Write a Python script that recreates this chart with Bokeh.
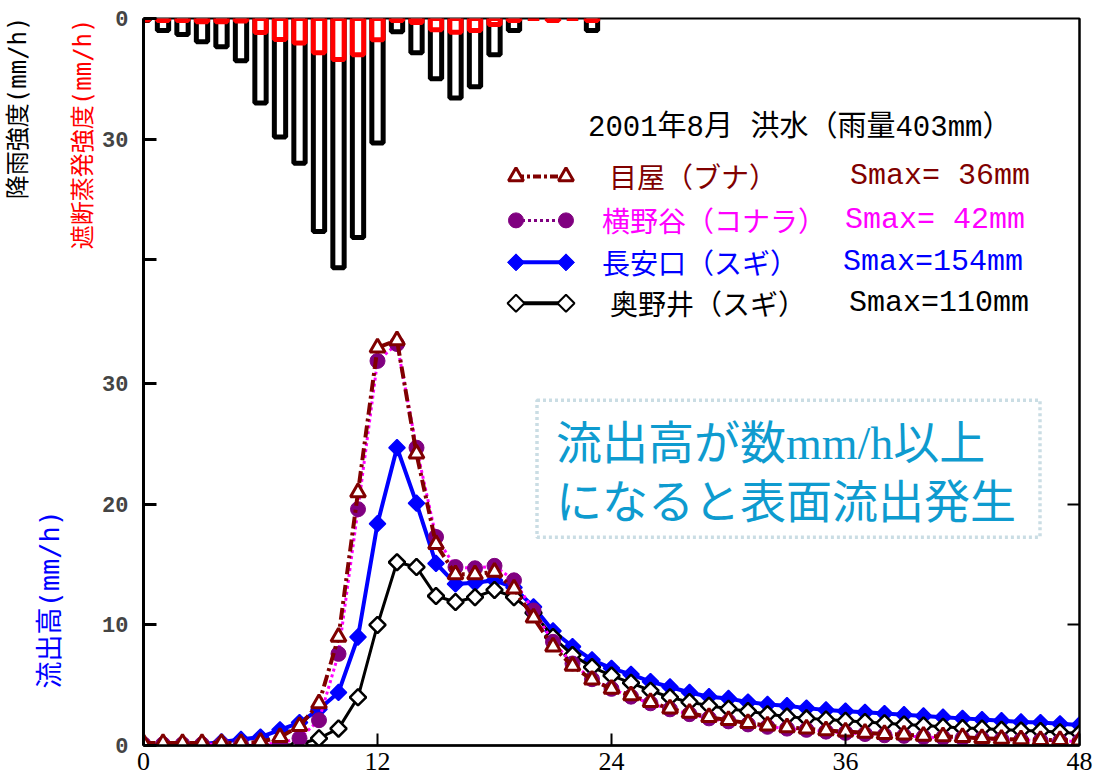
import numpy as np
from bokeh.plotting import figure
from bokeh.models import Range1d, LinearAxis, FixedTicker, Label, BoxAnnotation, Title
from bokeh.embed import file_html
from bokeh.resources import INLINE

# ---------------- data ----------------
hours = list(range(49))
rain_hours = list(range(24))
# rainfall intensity (mm/h), hourly
rain = [0.5, 3.0, 4.0, 5.8, 7.0, 10.5, 21.0, 29.5, 36.0, 53.0, 62.0, 54.5,
        31.0, 3.3, 8.5, 15.0, 19.8, 17.0, 9.0, 3.0, 0.0, 0.0, 0.0, 3.0]
# interception evaporation intensity (mm/h)
evap = [0.4, 0.5, 0.5, 0.8, 0.8, 0.6, 3.5, 5.2, 6.1, 8.5, 10.2, 9.0,
        5.3, 0.5, 1.0, 2.8, 3.4, 3.0, 1.5, 0.5, 0.0, 0.5, 0.0, 0.5]

# runoff height (mm/h)
meya = [0.2, 0.2, 0.2, 0.2, 0.2, 0.2, 0.3, 0.7, 1.6, 3.5, 9.0, 21.0, 33.0, 33.6,
        24.2, 16.7, 14.2, 14.2, 14.4, 13.0, 10.6, 8.2, 6.6, 5.45, 4.7, 4.15, 3.6,
        3.05, 2.7, 2.35, 2.1, 1.85, 1.65, 1.5, 1.4, 1.25, 1.15, 1.05, 0.95, 0.9,
        0.8, 0.75, 0.7, 0.6, 0.55, 0.5, 0.45, 0.45, 0.4]
yokono = [0.1, 0.1, 0.1, 0.1, 0.1, 0.1, 0.1, 0.2, 0.6, 2.1, 7.6, 19.6, 31.9, 33.3,
          24.7, 17.3, 14.8, 14.7, 14.9, 13.7, 11.2, 8.6, 6.8, 5.5, 4.7, 4.05, 3.5,
          3.0, 2.6, 2.25, 2.0, 1.75, 1.55, 1.4, 1.3, 1.15, 1.05, 0.95, 0.85, 0.8,
          0.7, 0.65, 0.6, 0.55, 0.5, 0.45, 0.4, 0.35, 0.35]
nagayasu = [0.0, 0.0, 0.05, 0.1, 0.3, 0.5, 0.7, 1.3, 1.9, 3.0, 4.4, 9.0, 18.4, 24.7,
            20.1, 15.1, 13.4, 13.5, 13.7, 13.1, 11.5, 9.5, 8.2, 7.1, 6.4, 5.9, 5.3,
            4.85, 4.4, 4.05, 3.9, 3.6, 3.4, 3.3, 3.1, 2.95, 2.85, 2.75, 2.65, 2.55,
            2.45, 2.35, 2.25, 2.15, 2.05, 1.95, 1.9, 1.8, 1.7]
okunoi = [0.0, 0.0, 0.0, 0.0, 0.0, 0.0, 0.0, 0.0, 0.1, 0.6, 1.4, 4.0, 10.0, 15.2,
          14.8, 12.4, 11.9, 12.3, 12.9, 12.3, 11.0, 9.0, 7.5, 6.5, 5.8, 5.2, 4.55,
          4.0, 3.6, 3.3, 3.05, 2.85, 2.6, 2.4, 2.25, 2.15, 2.05, 1.95, 1.85, 1.75,
          1.65, 1.55, 1.45, 1.4, 1.3, 1.25, 1.2, 1.1, 1.0]

x_ticks = [0, 12, 24, 36, 48]
runoff_ticks = [0, 10, 20, 30]
rain_ticks = [0, 30]          # labelled rainfall ticks
rain_minor_ticks = [60]       # unlabelled rainfall tick
right_ticks = [10, 20]        # unlabelled ticks on the right frame edge

series_names = ["目屋（ブナ）", "横野谷（コナラ）", "長安口（スギ）", "奥野井（スギ）"]
smax_texts = ["Smax= 36mm", "Smax= 42mm", "Smax=154mm", "Smax=110mm"]
title_text = "2001年8月 洪水（雨量403mm）"

# ---------------- figure ----------------
Y_TOP = 60.3          # runoff axis top
RAIN_PER_UNIT = 3.0   # rain axis (reversed) shares the frame
rain_bottom = Y_TOP * RAIN_PER_UNIT

p = figure(width=1098, height=783, x_range=Range1d(0, 48), y_range=Range1d(0, Y_TOP),
           output_backend="svg", toolbar_location=None,
           min_border_left=143, min_border_right=19, min_border_top=18, min_border_bottom=38)
p.extra_y_ranges = {"rain": Range1d(start=rain_bottom, end=0)}
p.grid.visible = False
p.outline_line_color = "black"
p.outline_line_width = 2
p.background_fill_color = "white"
p.border_fill_color = "white"

# x axis
xa = p.xaxis[0]
xa.ticker = FixedTicker(ticks=x_ticks)
xa.major_tick_in = 12
xa.major_tick_out = 0
xa.major_tick_line_width = 2
xa.minor_tick_line_color = None
xa.axis_line_width = 2.5
xa.major_label_text_font = "Liberation Serif"
xa.major_label_text_font_size = "26px"
xa.major_label_text_color = "black"
xa.major_label_standoff = 7

# left axis: runoff ticks + rain ticks mapped into runoff coordinates
ya = p.yaxis[0]
rain_tick_pos = [Y_TOP - r / RAIN_PER_UNIT for r in rain_ticks]
rain_minor_pos = [Y_TOP - r / RAIN_PER_UNIT for r in rain_minor_ticks]
ya.ticker = FixedTicker(ticks=runoff_ticks + rain_tick_pos, minor_ticks=rain_minor_pos)
ya.major_label_overrides = {pos: str(r) for pos, r in zip(rain_tick_pos, rain_ticks)}
ya.major_tick_in = 13
ya.major_tick_out = 0
ya.major_tick_line_width = 3
ya.minor_tick_in = 13
ya.minor_tick_out = 0
ya.minor_tick_line_width = 3
ya.minor_tick_line_color = "black"
ya.axis_line_width = 3
ya.major_label_text_font = "Liberation Mono"
ya.major_label_text_font_style = "bold"
ya.major_label_text_font_size = "22px"
ya.major_label_standoff = 15

# axis titles (stacked outward from the axis on the left side)
TITLE_FONT = "DejaVu Sans Mono, Noto Sans CJK JP"
p.add_layout(Title(text="遮断蒸発強度(mm/h)", align="right", offset=0, standoff=5,
                   text_font=TITLE_FONT, text_font_size="24px",
                   text_font_style="normal", text_color="#FF0000"), "left")
p.add_layout(Title(text="流出高(mm/h)", align="left", offset=57, standoff=0,
                   text_font=TITLE_FONT, text_font_size="27px",
                   text_font_style="normal", text_color="#0000FF"), "left")
p.add_layout(Title(text="降雨強度(mm/h)", align="right", offset=-2, standoff=0,
                   text_font=TITLE_FONT, text_font_size="24px",
                   text_font_style="normal", text_color="black"), "left")

# right axis: inward ticks only (minor ticks carry no labels)
ra = LinearAxis(ticker=FixedTicker(ticks=[], minor_ticks=right_ticks),
                minor_tick_in=12, minor_tick_out=0, minor_tick_line_width=2,
                minor_tick_line_color="black", major_tick_line_color=None,
                axis_line_width=2, major_label_standoff=0)
p.add_layout(ra, "right")

# ---------------- rain bars ----------------
p.vbar(x=rain_hours, width=0.58, top=0, bottom=rain, y_range_name="rain",
       fill_color="white", line_color="black", line_width=5)
p.vbar(x=rain_hours, width=0.58, top=0, bottom=evap, y_range_name="rain",
       fill_color="white", line_color="#FF0000", line_width=5)

# ---------------- runoff series ----------------
SQ = np.pi / 4
p.line(hours, nagayasu, line_color="#0000FF", line_width=4)
p.scatter(hours, nagayasu, marker="square", angle=SQ, size=11.5,
          fill_color="#0000FF", line_color="#0000FF", line_width=1.5)
p.line(hours, okunoi, line_color="black", line_width=3)
p.scatter(hours, okunoi, marker="square", angle=SQ, size=11.5,
          fill_color="white", line_color="black", line_width=2.5)
p.line(hours, yokono, line_color="#FF00FF", line_width=3, line_dash="3 3")
p.scatter(hours, yokono, marker="circle", size=15,
          fill_color="#800080", line_color="#800080")
p.line(hours, meya, line_color="#800000", line_width=4, line_dash="12 4 3 4")
p.scatter(hours, meya, marker="triangle", size=15,
          fill_color="white", line_color="#800000", line_width=3)

# ---------------- legend (manual) ----------------
def px2x(px):
    return (px - 143.5) / 19.5

def py2y(py):
    return (745.5 - py) / 12.065

leg_x = [px2x(516), px2x(566)]
rows = [py2y(176), py2y(220), py2y(262), py2y(303)]

p.line(leg_x, [rows[0]] * 2, line_color="#800000", line_width=4, line_dash="8 3 3 3")
p.scatter(leg_x, [rows[0]] * 2, marker="triangle", size=15, fill_color="white",
          line_color="#800000", line_width=3)
p.line(leg_x, [rows[1]] * 2, line_color="#800080", line_width=3, line_dash="3 3")
p.scatter(leg_x, [rows[1]] * 2, marker="circle", size=15, fill_color="#800080",
          line_color="#800080")
p.line(leg_x, [rows[2]] * 2, line_color="#0000FF", line_width=4)
p.scatter(leg_x, [rows[2]] * 2, marker="square", angle=SQ, size=12, fill_color="#0000FF",
          line_color="#0000FF")
p.line(leg_x, [rows[3]] * 2, line_color="black", line_width=4)
p.scatter(leg_x, [rows[3]] * 2, marker="square", angle=SQ, size=12, fill_color="white",
          line_color="black", line_width=2)

name_colors = ["#800000", "#FF00FF", "#0000FF", "black"]
name_px = [609, 602, 602, 610]
smax_px = [850, 845, 843, 849]
for i in range(4):
    p.add_layout(Label(x=px2x(name_px[i]), y=rows[i], text=series_names[i],
                       text_font="Noto Sans CJK JP", text_font_size="28px",
                       text_color=name_colors[i], text_baseline="middle", text_align="left"))
    p.add_layout(Label(x=px2x(smax_px[i]), y=rows[i], text=smax_texts[i],
                       text_font="Liberation Mono", text_font_size="30px",
                       text_color=name_colors[i], text_baseline="middle", text_align="left"))

p.add_layout(Label(x=px2x(588), y=py2y(128), text=title_text,
                   text_font="Liberation Mono, Noto Sans CJK JP", text_font_size="29px",
                   text_color="black", text_baseline="middle", text_align="left"))

# ---------------- annotation box ----------------
p.add_layout(BoxAnnotation(left=px2x(537), right=px2x(1040), top=py2y(400), bottom=py2y(537),
                           fill_alpha=0, line_color="#4F8FA5", line_width=3.5, line_dash="3 3"))
p.add_layout(Label(x=px2x(556), y=py2y(443), text="流出高が数mm/h以上",
                   text_font="Liberation Serif, Noto Sans CJK JP", text_font_size="46px",
                   text_color="#0E9BCF", text_baseline="middle", text_align="left"))
p.add_layout(Label(x=px2x(556), y=py2y(498), text="になると表面流出発生",
                   text_font="Noto Sans CJK JP", text_font_size="46px",
                   text_color="#0E9BCF", text_baseline="middle", text_align="left"))

open("out.html", "w").write(file_html(p, INLINE))
